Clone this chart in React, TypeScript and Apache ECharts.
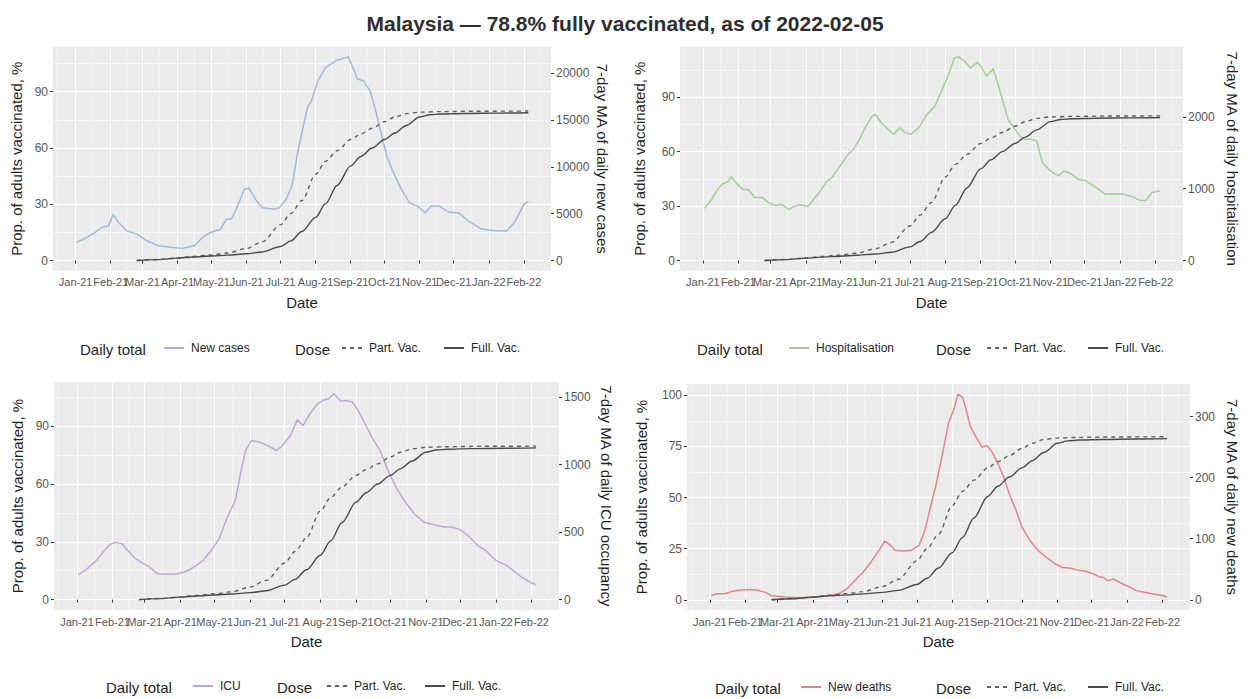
import React, { useEffect, useRef } from "react";
import * as echarts from "echarts";

const TITLE = "Malaysia — 78.8% fully vaccinated, as of 2022-02-05";
const X_MIN = "2020-12-12";
const X_MAX = "2022-02-25";
const MONTH_TICKS = ["2021-01-01","2021-02-01","2021-03-01","2021-04-01","2021-05-01","2021-06-01","2021-07-01","2021-08-01","2021-09-01","2021-10-01","2021-11-01","2021-12-01","2022-01-01","2022-02-01"];
const MINOR_X = ["2020-12-16","2021-01-16","2021-02-15","2021-03-16","2021-04-16","2021-05-16","2021-06-16","2021-07-16","2021-08-16","2021-09-16","2021-10-16","2021-11-16","2021-12-16","2022-01-16","2022-02-15"];
const MONTH_NAMES = ["Jan","Feb","Mar","Apr","May","Jun","Jul","Aug","Sep","Oct","Nov","Dec"];

const PCT_TICKS = [0, 30, 60, 90];
const PCT_MINOR = [15, 45, 75, 105];
const PCT_TICKS_4 = [0, 25, 50, 75, 100];
const PCT_MINOR_4 = [12.5, 37.5, 62.5, 87.5];
const CASES_TICKS = [0, 5000, 10000, 15000, 20000];
const HOSP_TICKS = [0, 1000, 2000];
const ICU_TICKS = [0, 500, 1000, 1500];
const DEATHS_TICKS = [0, 100, 200, 300];

const CASES: [string, number][] = [["2021-01-02",1940],["2021-01-09",2350],["2021-01-18",2990],["2021-01-25",3590],["2021-01-30",3700],["2021-02-03",4900],["2021-02-08",4050],["2021-02-15",3170],["2021-02-24",2820],["2021-03-05",2110],["2021-03-15",1580],["2021-03-26",1410],["2021-04-05",1300],["2021-04-16",1580],["2021-04-23",2460],["2021-04-30",2990],["2021-05-09",3340],["2021-05-14",4400],["2021-05-19",4470],["2021-05-24",5810],["2021-05-30",7570],["2021-06-03",7740],["2021-06-09",6510],["2021-06-15",5630],["2021-06-25",5460],["2021-06-30",5630],["2021-07-06",6510],["2021-07-11",7920],["2021-07-16",11440],["2021-07-21",14260],["2021-07-25",16370],["2021-07-28",16900],["2021-08-03",19180],["2021-08-10",20590],["2021-08-19",21300],["2021-08-26",21580],["2021-08-30",21720],["2021-09-03",20590],["2021-09-07",19360],["2021-09-12",19180],["2021-09-18",18130],["2021-09-23",16020],["2021-09-28",13550],["2021-10-03",11090],["2021-10-09",9330],["2021-10-16",7570],["2021-10-23",6160],["2021-10-30",5810],["2021-11-06",5100],["2021-11-11",5810],["2021-11-18",5810],["2021-11-27",5170],["2021-12-06",5050],["2021-12-14",4200],["2021-12-25",3400],["2022-01-05",3200],["2022-01-17",3150],["2022-01-24",4100],["2022-02-01",6000],["2022-02-05",6300]];

const HOSP: [string, number][] = [["2021-01-02",725],["2021-01-08",830],["2021-01-13",970],["2021-01-18",1063],["2021-01-23",1095],["2021-01-26",1165],["2021-01-31",1063],["2021-02-05",993],["2021-02-10",984],["2021-02-15",878],["2021-02-22",878],["2021-02-27",809],["2021-03-06",762],["2021-03-11",785],["2021-03-17",707],["2021-03-22",753],["2021-03-27",776],["2021-04-03",753],["2021-04-08",855],["2021-04-13",947],["2021-04-19",1095],["2021-04-24",1155],["2021-05-01",1317],["2021-05-08",1478],["2021-05-13",1548],["2021-05-18",1686],["2021-05-23",1848],["2021-05-29",2010],["2021-06-01",2033],["2021-06-06",1917],["2021-06-12",1825],["2021-06-17",1756],["2021-06-22",1848],["2021-06-27",1779],["2021-07-02",1756],["2021-07-09",1848],["2021-07-16",2033],["2021-07-23",2148],["2021-07-30",2402],["2021-08-04",2587],["2021-08-09",2818],["2021-08-13",2832],["2021-08-18",2772],["2021-08-23",2680],["2021-08-29",2758],["2021-09-01",2703],["2021-09-06",2564],["2021-09-12",2666],["2021-09-15",2518],["2021-09-20",2241],["2021-09-25",1963],["2021-10-02",1802],["2021-10-08",1686],["2021-10-15",1686],["2021-10-20",1663],["2021-10-25",1363],["2021-11-01",1247],["2021-11-08",1178],["2021-11-13",1247],["2021-11-20",1201],["2021-11-25",1132],["2021-12-02",1109],["2021-12-11",1016],["2021-12-19",924],["2021-12-27",924],["2022-01-04",924],["2022-01-11",892],["2022-01-18",840],["2022-01-23",830],["2022-01-29",947],["2022-02-05",970]];

const ICU: [string, number][] = [["2021-01-02",185],["2021-01-09",222],["2021-01-18",291],["2021-01-25",365],["2021-01-30",410],["2021-02-04",424],["2021-02-09",414],["2021-02-14",365],["2021-02-21",303],["2021-02-28",266],["2021-03-05",242],["2021-03-12",192],["2021-03-21",187],["2021-03-30",192],["2021-04-07",212],["2021-04-14",247],["2021-04-21",291],["2021-04-28",365],["2021-05-05",451],["2021-05-12",612],["2021-05-19",735],["2021-05-24",957],["2021-05-28",1105],["2021-06-02",1179],["2021-06-09",1167],["2021-06-16",1142],["2021-06-24",1105],["2021-06-29",1142],["2021-07-06",1216],["2021-07-12",1332],["2021-07-17",1290],["2021-07-22",1364],["2021-07-29",1446],["2021-08-03",1475],["2021-08-08",1488],["2021-08-13",1525],["2021-08-19",1470],["2021-08-24",1475],["2021-08-29",1463],["2021-09-03",1401],["2021-09-09",1303],["2021-09-15",1204],["2021-09-22",1105],["2021-09-29",957],["2021-10-06",834],["2021-10-13",735],["2021-10-22",636],["2021-10-30",575],["2021-11-08",555],["2021-11-17",538],["2021-11-24",538],["2021-12-02",513],["2021-12-09",464],["2021-12-16",402],["2021-12-23",365],["2022-01-01",291],["2022-01-10",254],["2022-01-16",217],["2022-01-23",168],["2022-02-01",123],["2022-02-05",113]];

const DEATHS: [string, number][] = [["2021-01-02",7],["2021-01-07",10],["2021-01-14",10],["2021-01-21",14],["2021-01-28",16],["2021-02-04",17],["2021-02-11",16],["2021-02-18",12.5],["2021-02-24",7],["2021-03-07",4.4],["2021-03-21",3.3],["2021-04-04",4.4],["2021-04-14",6.5],["2021-04-24",10],["2021-05-01",18],["2021-05-08",32],["2021-05-15",45],["2021-05-22",62],["2021-05-29",81],["2021-06-03",96],["2021-06-08",89],["2021-06-12",81],["2021-06-19",80],["2021-06-26",81],["2021-07-03",89],["2021-07-08",113],["2021-07-13",152],["2021-07-18",190],["2021-07-24",244],["2021-07-29",291],["2021-08-03",315],["2021-08-06",337],["2021-08-10",332],["2021-08-13",313],["2021-08-17",283],["2021-08-22",266],["2021-08-27",250],["2021-08-31",253],["2021-09-05",242],["2021-09-10",223],["2021-09-15",201],["2021-09-21",168],["2021-09-26",146],["2021-10-01",119],["2021-10-08",97],["2021-10-15",81],["2021-10-22",70],["2021-10-30",59],["2021-11-05",53],["2021-11-12",52],["2021-11-18",49],["2021-11-25",47],["2021-12-02",43],["2021-12-08",37],["2021-12-11",37],["2021-12-15",31],["2021-12-20",34],["2021-12-27",27],["2022-01-03",21],["2022-01-09",15],["2022-01-16",12.5],["2022-01-23",10],["2022-02-01",7],["2022-02-05",4.4]];

const FULL_VAC: [string, number][] = [["2021-02-24",0],["2021-03-15",0.5],["2021-04-01",1.3],["2021-04-15",1.9],["2021-05-01",2.4],["2021-05-15",2.9],["2021-06-01",3.6],["2021-06-15",4.6],["2021-07-01",7.5],["2021-07-10",10.5],["2021-07-20",15.5],["2021-08-01",23],["2021-08-10",30.5],["2021-08-20",40],["2021-09-01",50.5],["2021-09-10",55.5],["2021-09-20",60],["2021-10-01",64.5],["2021-10-10",68],["2021-10-20",72],["2021-11-01",76.5],["2021-11-10",77.7],["2021-11-20",78.1],["2021-12-10",78.4],["2022-01-10",78.6],["2022-02-05",78.8]];

const PART_VAC: [string, number][] = [["2021-02-24",0],["2021-03-15",0.6],["2021-04-01",1.4],["2021-04-15",2.2],["2021-05-01",3.0],["2021-05-15",4.0],["2021-06-01",6.5],["2021-06-15",10],["2021-07-01",19],["2021-07-10",25],["2021-07-20",32],["2021-08-01",46],["2021-08-10",53],["2021-08-20",58.5],["2021-09-01",64.5],["2021-09-10",67.5],["2021-09-20",70.5],["2021-10-01",74],["2021-10-10",76.5],["2021-10-20",78.3],["2021-11-01",79.1],["2021-11-20",79.4],["2021-12-20",79.6],["2022-02-05",79.7]];

const FONT = "'Liberation Sans', Arial, Helvetica, sans-serif";
const TICK_COLOR = "#555555";
const TEXT_COLOR = "#1f1f1f";

const toTs = (d: string) => Date.parse(d + "T00:00:00Z");
const fmtMonth = (v: number) => {
  const d = new Date(v);
  return MONTH_NAMES[d.getUTCMonth()] + "-" + String(d.getUTCFullYear()).slice(2);
};
const fmtNum = (v: number) => String(v);

const PANELS = [
  { grid: { left: 53, top: 46.7, width: 498, height: 224 }, daily: CASES, dailyName: "New cases", color: "#9dbad9", k: 200, yMin: -5.4, yMax: 114, leftTicks: PCT_TICKS, leftMinor: PCT_MINOR, rightTicks: CASES_TICKS, rightName: "7-day MA of daily new cases", leftGap: 29, rightGap: 44, dateGap: 24, legY: 349, legTitleX: 80, legAX: 163, doseX: 295, partX: 341, fullX: 443 },
  { grid: { left: 680, top: 46.7, width: 503, height: 224 }, daily: HOSP, dailyName: "Hospitalisation", color: "#9fcf97", k: 25.25, yMin: -5.6, yMax: 117.8, leftTicks: PCT_TICKS, leftMinor: PCT_MINOR, rightTicks: HOSP_TICKS, rightName: "7-day MA of daily hospitalisation", leftGap: 33, rightGap: 42, dateGap: 24, legY: 349, legTitleX: 697, legAX: 788, doseX: 936, partX: 986, fullX: 1087 },
  { grid: { left: 54, top: 382, width: 505, height: 228 }, daily: ICU, dailyName: "ICU", color: "#bea8d3", k: 14.27, yMin: -5.4, yMax: 113, leftTicks: PCT_TICKS, leftMinor: PCT_MINOR, rightTicks: ICU_TICKS, rightName: "7-day MA of daily ICU occupancy", leftGap: 29, rightGap: 40, dateGap: 24, legY: 687, legTitleX: 106, legAX: 192, doseX: 277, partX: 326, fullX: 424 },
  { grid: { left: 687, top: 384, width: 503, height: 226 }, daily: DEATHS, dailyName: "New deaths", color: "#e48585", k: 3.351, yMin: -5, yMax: 105.5, leftTicks: PCT_TICKS_4, leftMinor: PCT_MINOR_4, rightTicks: DEATHS_TICKS, rightName: "7-day MA of daily new deaths", leftGap: 38, rightGap: 35, dateGap: 24, legY: 688, legTitleX: 715, legAX: 800, doseX: 936, partX: 986, fullX: 1087 },
];

function buildOption() {
  const monthTs = MONTH_TICKS.map(toTs);
  const minorTs = MINOR_X.map(toTs);
  const xMin = toTs(X_MIN);
  const xMax = toTs(X_MAX);
  const grids: any[] = [];
  const xAxes: any[] = [];
  const yAxes: any[] = [];
  const series: any[] = [];
  const legends: any[] = [];
  const graphics: any[] = [];
  const axisTitle = { color: TEXT_COLOR, fontSize: 15, fontFamily: FONT };
  const tickLabel = { color: TICK_COLOR, fontSize: 12, fontFamily: FONT };

  PANELS.forEach((p, i) => {
    grids.push({ ...p.grid, show: true, backgroundColor: "#EBEBEB", borderWidth: 0 });
    xAxes.push({
      type: "value", gridIndex: i, min: xMin, max: xMax, position: "bottom",
      name: "Date", nameLocation: "middle", nameGap: p.dateGap, nameTextStyle: axisTitle,
      axisLine: { show: false },
      axisTick: { show: true, length: 3, customValues: monthTs, lineStyle: { color: "#333", width: 1 } },
      axisLabel: { ...tickLabel, fontSize: 11, customValues: monthTs, formatter: fmtMonth, margin: 6, hideOverlap: false, showMinLabel: true, showMaxLabel: true },
      splitLine: { show: true, customValues: monthTs, lineStyle: { color: "#ffffff", width: 1.1 } },
    });
    xAxes.push({
      type: "value", gridIndex: i, min: xMin, max: xMax, position: "top",
      axisLine: { show: false },
      axisTick: { show: false, customValues: minorTs },
      axisLabel: { show: false, customValues: minorTs },
      splitLine: { show: true, customValues: minorTs, lineStyle: { color: "#ffffff", width: 0.55 } },
    });
    yAxes.push({
      type: "value", gridIndex: i, position: "left", min: p.yMin, max: p.yMax,
      name: "Prop. of adults vaccinated, %", nameLocation: "middle", nameGap: p.leftGap, nameRotate: 90, nameTextStyle: axisTitle,
      axisLine: { show: false },
      axisTick: { show: true, length: 3, customValues: p.leftTicks, lineStyle: { color: "#333", width: 1 } },
      axisLabel: { ...tickLabel, customValues: p.leftTicks, formatter: fmtNum, margin: 5, showMinLabel: true, showMaxLabel: true },
      splitLine: { show: true, customValues: p.leftTicks, lineStyle: { color: "#ffffff", width: 1.1 } },
    });
    yAxes.push({
      type: "value", gridIndex: i, position: "right", min: p.yMin * p.k, max: p.yMax * p.k,
      name: p.rightName, nameLocation: "middle", nameGap: p.rightGap, nameRotate: -90, nameTextStyle: axisTitle,
      axisLine: { show: false },
      axisTick: { show: true, length: 3, customValues: p.rightTicks, lineStyle: { color: "#333", width: 1 } },
      axisLabel: { ...tickLabel, customValues: p.rightTicks, formatter: fmtNum, margin: 5, showMinLabel: true, showMaxLabel: true },
      splitLine: { show: false },
    });
    yAxes.push({
      type: "value", gridIndex: i, position: "left", min: p.yMin, max: p.yMax,
      axisLine: { show: false },
      axisTick: { show: false, customValues: p.leftMinor },
      axisLabel: { show: false, customValues: p.leftMinor },
      splitLine: { show: true, customValues: p.leftMinor, lineStyle: { color: "#ffffff", width: 0.55 } },
    });

    series.push({
      type: "line", name: p.dailyName, xAxisIndex: 2 * i, yAxisIndex: 3 * i + 1,
      data: p.daily.map(([d, v]) => [toTs(d), v]), symbol: "none",
      lineStyle: { color: p.color, width: 1.5 }, itemStyle: { color: p.color }, z: 2,
    });
    series.push({
      type: "line", name: "Part. Vac.", xAxisIndex: 2 * i, yAxisIndex: 3 * i,
      data: PART_VAC.map(([d, v]) => [toTs(d), v]), symbol: "none", smooth: 0.3, smoothMonotone: "x",
      lineStyle: { color: "#5f5f5f", width: 1.4, type: [4, 4] }, itemStyle: { color: "#5f5f5f" }, z: 3,
    });
    series.push({
      type: "line", name: "Full. Vac.", xAxisIndex: 2 * i, yAxisIndex: 3 * i,
      data: FULL_VAC.map(([d, v]) => [toTs(d), v]), symbol: "none", smooth: 0.3, smoothMonotone: "x",
      lineStyle: { color: "#4a4a4a", width: 1.4 }, itemStyle: { color: "#4a4a4a" }, z: 3,
    });

    const legBase = {
      top: p.legY - 7, padding: 0, itemWidth: 20, itemHeight: 14, itemGap: 0, selectedMode: false,
      itemStyle: { opacity: 0 },
      textStyle: { fontSize: 12, color: TEXT_COLOR, fontFamily: FONT, padding: [0, 0, 0, 2] },
    };
    legends.push({ ...legBase, left: p.legAX, data: [p.dailyName] });
    legends.push({ ...legBase, left: p.partX, data: ["Part. Vac."] });
    legends.push({ ...legBase, left: p.fullX, data: ["Full. Vac."] });

    graphics.push({ type: "text", x: p.legTitleX, y: p.legY, style: { text: "Daily total", fill: TEXT_COLOR, fontSize: 15, fontFamily: FONT, verticalAlign: "middle" } });
    graphics.push({ type: "text", x: p.doseX, y: p.legY, style: { text: "Dose", fill: TEXT_COLOR, fontSize: 15, fontFamily: FONT, verticalAlign: "middle" } });
  });

  return {
    animation: false,
    backgroundColor: "#ffffff",
    title: { text: TITLE, left: "center", top: 8, textStyle: { fontSize: 21, fontWeight: "bold", color: "#2e2e2e", fontFamily: FONT } },
    grid: grids,
    xAxis: xAxes,
    yAxis: yAxes,
    series,
    legend: legends,
    graphic: graphics,
  };
}

export default function App() {
  const ref = useRef<HTMLDivElement>(null);
  useEffect(() => {
    const chart = echarts.init(ref.current as HTMLDivElement, undefined, { renderer: "svg" });
    chart.setOption(buildOption() as any);
    return () => chart.dispose();
  }, []);
  return <div ref={ref} style={{ position: "fixed", left: 0, top: 0, width: 1250, height: 699, background: "#fff" }} />;
}
